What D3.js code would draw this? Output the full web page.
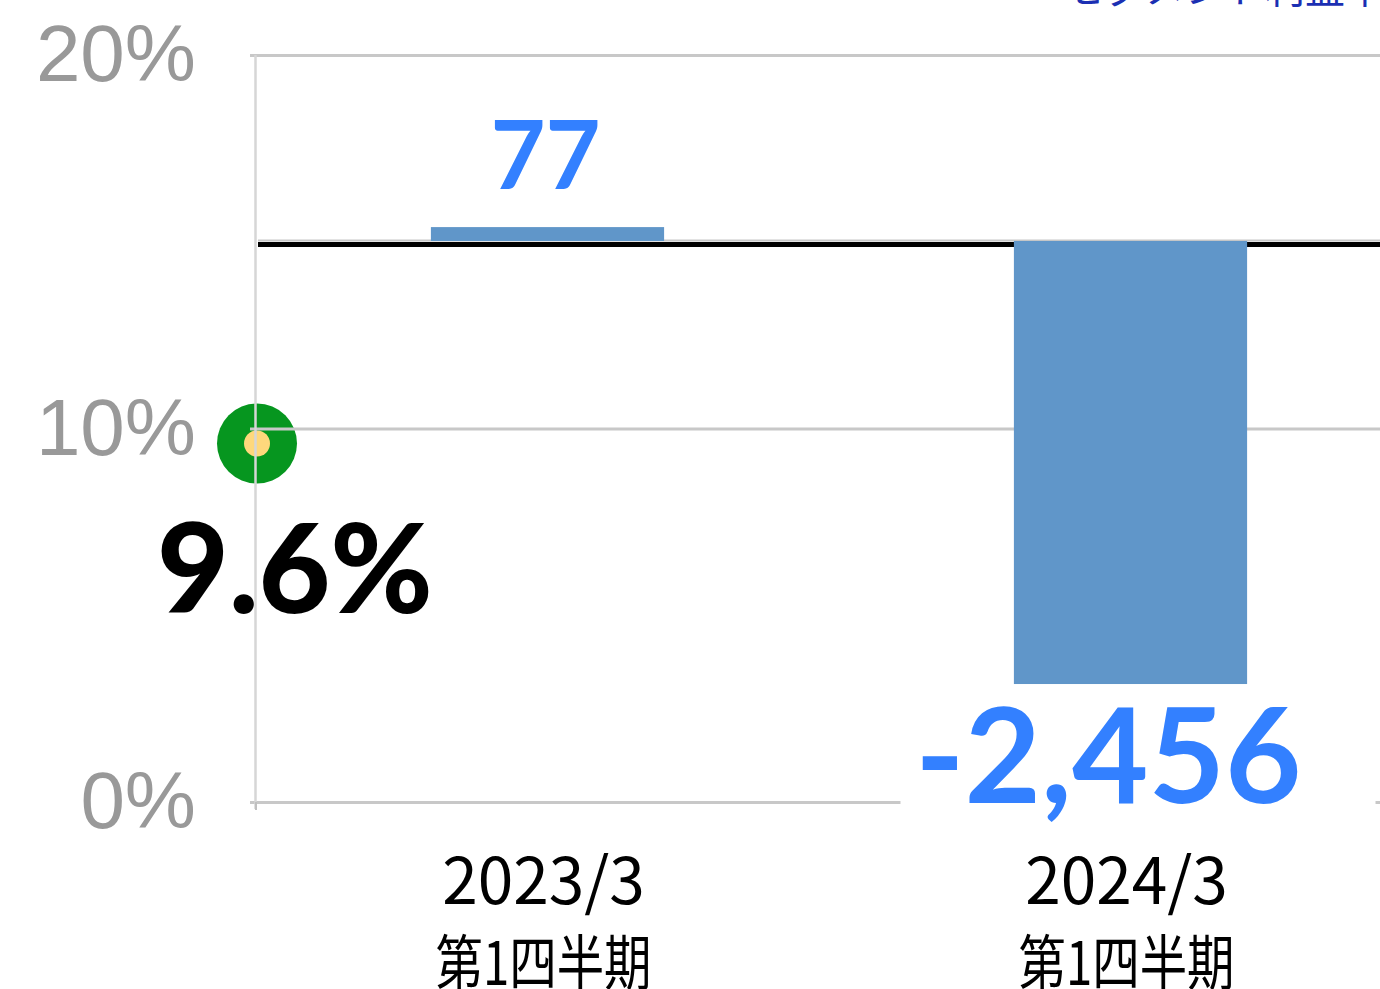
<!DOCTYPE html>
<html lang="ja">
<head>
<meta charset="utf-8">
<script src="https://cdn.jsdelivr.net/npm/d3@7"></script>
<style>
  body { margin: 0; background: #fff; }
  svg { display: block; }
</style>
</head>
<body>
<div id="chart"></div>
<script>
// values
const periods = ["2023/3", "2024/3"];
const quarters = ["第1四半期", "第1四半期"];
const profit = [77, -2456];
const profitLabels = ["77", "-2,456"];
const ratePeriods = ["2023/3"];
const rate = [9.6];
const pctTicks = [0, 10, 20];

const W = 1380, H = 989;

const svg = d3.select("#chart").append("svg")
    .attr("width", W)
    .attr("height", H);

const x = d3.scaleBand().domain(periods).range([256, 1422])
    .paddingInner(0.6).paddingOuter(0.3);
const xLine = d3.scalePoint().domain(periods).range([257, 257 + x.step()]);
const yPct = d3.scaleLinear().domain([0, 20]).range([802, 55]);
const yBar = d3.scaleLinear().domain([-3110, 1031]).range([802, 55]);

// title, mostly cut off at the top edge
svg.append("text")
    .attr("x", 1385).attr("y", 3)
    .attr("text-anchor", "end")
    .style("font-family", "'Noto Sans CJK JP'")
    .style("font-size", "40px")
    .style("fill", "#1b2fb3")
    .text("セグメント利益率");

// rate marker (drawn under the grid)
const pts = svg.append("g");
ratePeriods.forEach((p, i) => {
    pts.append("circle")
        .attr("cx", xLine(p)).attr("cy", yPct(rate[i]))
        .attr("r", 40).attr("fill", "#06961f");
    pts.append("circle")
        .attr("cx", xLine(p)).attr("cy", yPct(rate[i]))
        .attr("r", 13).attr("fill", "#fed87c");
});

// gridlines
const grid = svg.append("g")
    .attr("transform", "translate(256,0)")
    .call(d3.axisLeft(yPct).tickValues(pctTicks).tickSize(-(W - 256)).tickFormat(""));
grid.select(".domain").remove();
grid.selectAll("line").attr("stroke", "#c8c8c8").attr("stroke-width", 3);

// left axis with ticks and labels
const yAxis = svg.append("g")
    .attr("transform", "translate(256,0)")
    .call(d3.axisLeft(yPct).tickValues(pctTicks).tickFormat(d => d + "%").tickSize(6).tickPadding(54));
yAxis.select(".domain").remove();
yAxis.selectAll("line").attr("stroke", "#c8c8c8").attr("stroke-width", 3);
yAxis.selectAll("text")
    .style("font-family", "'Liberation Sans', Arial, sans-serif")
    .style("font-size", "80px")
    .style("fill", "#999");

svg.append("line")
    .attr("x1", 255.5).attr("x2", 255.5)
    .attr("y1", yPct(20)).attr("y2", yPct(0) + 7)
    .attr("stroke", "#d6d6d6").attr("stroke-width", 2.5);

// zero line of the profit axis, and the black reference line
svg.append("line")
    .attr("x1", 258).attr("x2", W)
    .attr("y1", yBar(0) - 0.5).attr("y2", yBar(0) - 0.5)
    .attr("stroke", "#c8c8c8").attr("stroke-width", 2);
svg.append("line")
    .attr("x1", 258).attr("x2", W)
    .attr("y1", yBar(0) + 3.5).attr("y2", yBar(0) + 3.5)
    .attr("stroke", "#000").attr("stroke-width", 5);

// bars
svg.append("g").selectAll("rect")
    .data(periods)
    .join("rect")
    .attr("x", d => x(d))
    .attr("width", x.bandwidth())
    .attr("y", (d, i) => yBar(Math.max(0, profit[i])))
    .attr("height", (d, i) => Math.abs(yBar(profit[i]) - yBar(0)))
    .attr("fill", "#6096c9");

// bar labels
periods.forEach((p, i) => {
    const cx = x(p) + x.bandwidth() / 2;
    if (profit[i] >= 0) {
        svg.append("text")
            .attr("x", cx - 2).attr("y", yBar(profit[i]) - 38)
            .attr("text-anchor", "middle")
            .style("font-family", "Lato, sans-serif")
            .style("font-weight", 700)
            .style("font-size", "95px")
            .style("fill", "#3380ff")
            .text(profitLabels[i]);
    } else {
        svg.append("rect")
            .attr("x", cx - 230).attr("y", yBar(profit[i]) + 96)
            .attr("width", 475).attr("height", 30)
            .attr("fill", "#fff");
        svg.append("text")
            .attr("x", cx - 22).attr("y", yBar(profit[i]) + 119)
            .attr("text-anchor", "middle")
            .style("font-family", "Lato, sans-serif")
            .style("font-weight", 700)
            .style("font-size", "132px")
            .style("fill", "#3380ff")
            .text(profitLabels[i]);
    }
});

// rate label
ratePeriods.forEach((p, i) => {
    svg.append("text")
        .attr("x", xLine(p) - 100).attr("y", yPct(rate[i]) + 170)
        .style("font-family", "Lato, sans-serif")
        .style("font-weight", 900)
        .style("font-size", "124px")
        .style("fill", "#000")
        .text(rate[i].toFixed(1) + "%");
});

// category labels
svg.append("line")
    .attr("x1", 256).attr("x2", 256)
    .attr("y1", yPct(0)).attr("y2", yPct(0) + 8)
    .attr("stroke", "#c0c0c0").attr("stroke-width", 2);

const cats = svg.append("g");
periods.forEach((p, i) => {
    const cx = x(p) + x.bandwidth() / 2 - 4;
    cats.append("text")
        .attr("x", cx).attr("y", 904)
        .attr("text-anchor", "middle")
        .style("font-family", "'Noto Sans CJK JP'")
        .style("font-size", "64px")
        .style("fill", "#000")
        .text(p);
    cats.append("text")
        .attr("x", cx).attr("y", 985)
        .attr("text-anchor", "middle")
        .attr("textLength", 216)
        .attr("lengthAdjust", "spacingAndGlyphs")
        .style("font-family", "'Noto Sans CJK JP'")
        .style("font-size", "60px")
        .style("fill", "#000")
        .text(quarters[i]);
});
</script>
</body>
</html>
